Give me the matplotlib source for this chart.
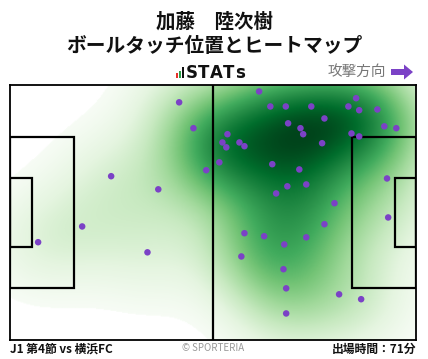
import numpy as np
import matplotlib.pyplot as plt
from matplotlib.patches import Rectangle, FancyArrow

plt.rcParams['font.family'] = ['Noto Sans CJK JP', 'DejaVu Sans']

# ボールタッチ位置 (ピッチ座標 m, x: 0-105 左→右, y: 0-68 上→下)
touch_x = [43.7, 47.4, 50.7, 26.1, 38.3, 18.6, 7.2, 35.5, 64.4, 89.5,
           67.3, 71.3, 77.9, 87.5, 90.3, 95.0, 81.3, 71.9, 75.1, 75.8,
           96.8, 99.9, 88.3, 90.3, 56.2, 54.9, 55.9, 59.3, 60.6, 80.7,
           54.1, 67.8, 74.8, 76.6, 71.7, 68.8, 83.9, 97.5, 97.8, 81.3,
           60.6, 65.7, 76.6, 70.9, 59.8, 70.7, 85.1, 90.8, 71.4, 71.4]
touch_y = [4.7, 11.6, 22.8, 24.4, 27.9, 37.8, 42.0, 44.7, 1.8, 3.6,
           5.8, 5.8, 5.8, 5.8, 6.8, 6.6, 9.0, 10.3, 11.6, 13.2,
           11.1, 11.6, 13.0, 13.8, 13.2, 15.4, 16.7, 15.4, 16.4, 15.6,
           20.7, 21.2, 22.6, 26.6, 27.1, 29.0, 31.6, 25.0, 35.4, 37.2,
           39.6, 40.4, 40.7, 42.6, 45.8, 49.2, 55.9, 57.2, 54.3, 61.0]

player = "加藤　陸次樹"
subtitle = "ボールタッチ位置とヒートマップ"
match_label = "J1 第4節 vs 横浜FC"
minutes_label = "出場時間：71分"

W, H = 428, 359
fig = plt.figure(figsize=(W / 100, H / 100), dpi=100)
ax = fig.add_axes([10.3 / W, 19.3 / H, 405.7 / W, 255 / H])

# heatmap (gaussian kde)
gx, gy = np.meshgrid(np.linspace(0, 105, 420), np.linspace(0, 68, 272))
bw = 10.0
dens = np.zeros_like(gx)
for x, y in zip(touch_x, touch_y):
    dens += np.exp(-((gx - x) ** 2 + (gy - y) ** 2) / (2 * bw ** 2))
dens = (dens / dens.max()) ** 0.8
cmap = plt.get_cmap('Greens').copy()
cmap.set_under('white')
ax.imshow(dens, extent=(0, 105, 0, 68), origin='lower', cmap=cmap,
          vmin=0.05, vmax=1.0, interpolation='bilinear', aspect='auto', zorder=0)

# pitch lines
lw = 1.6
ax.plot([52.5, 52.5], [0, 68], color='black', lw=lw, zorder=2)
for x0, w in [(0, 16.5), (105 - 16.5, 16.5)]:
    ax.add_patch(Rectangle((x0, 13.84), w, 40.32, fill=False, ec='black', lw=lw, zorder=2))
for x0, w in [(0, 5.5), (105 - 5.5, 5.5)]:
    ax.add_patch(Rectangle((x0, 24.84), w, 18.32, fill=False, ec='black', lw=lw, zorder=2))

ax.scatter(touch_x, touch_y, s=22, color='#7b42c6', edgecolors='none', zorder=3)

ax.set_xlim(0, 105)
ax.set_ylim(68, 0)
ax.set_xticks([])
ax.set_yticks([])
for s in ax.spines.values():
    s.set_linewidth(1.3)
    s.set_color('black')

# header
fig.text(214 / W, 1 - 22 / H, player, ha='center', va='center', fontsize=14, weight='bold', color='#111111')
fig.text(214 / W, 1 - 46 / H, subtitle, ha='center', va='center', fontsize=14.2, weight='bold', color='#111111')

# STATs logo
for (x0, y0, y1, c) in [(176, 72.5, 78, '#e8332a'), (179, 70.5, 78, '#2aa14a'), (182, 66.5, 78, '#111111')]:
    fig.add_artist(Rectangle((x0 / W, 1 - y1 / H), 2.4 / W, (y1 - y0) / H,
                             transform=fig.transFigure, color=c, lw=0))
for ch, cx in zip("STATs", [192, 204, 216.5, 229, 240.5]):
    fig.text(cx / W, 1 - 72.5 / H, ch, ha='center', va='center', fontsize=12,
             weight='bold', color='#111111', family='DejaVu Sans')

fig.text(386 / W, 1 - 72 / H, "攻撃方向", ha='right', va='center', fontsize=10.5, color='#777777')
fig.add_artist(FancyArrow(391 / W, 1 - 72 / H, 22 / W, 0, width=6 / H, head_width=15 / H,
                          head_length=9 / W, length_includes_head=True,
                          transform=fig.transFigure, color='#7b42c6', lw=0))

# footer
fig.text(10 / W, 1 - 349 / H, match_label, ha='left', va='center', fontsize=8.5, weight='bold', color='#111111')
fig.text(213 / W, 1 - 348 / H, "© SPORTERIA", ha='center', va='center', fontsize=7, color='#999999')
fig.text(416 / W, 1 - 349 / H, minutes_label, ha='right', va='center', fontsize=8.5, weight='bold', color='#111111')

fig.savefig('out.png', dpi=100)
